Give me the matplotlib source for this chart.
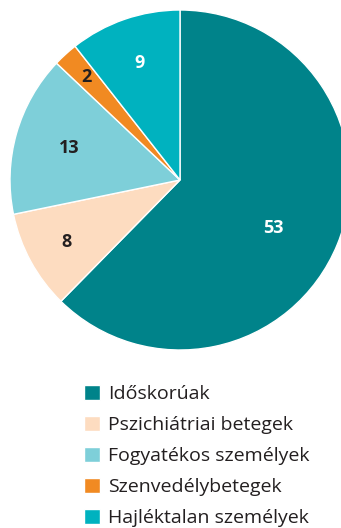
import numpy as np
import matplotlib.pyplot as plt

# --- data ---
labels = ["Időskorúak", "Pszichiátriai betegek", "Fogyatékos személyek",
          "Szenvedélybetegek", "Hajléktalan személyek"]
values = [53, 8, 13, 2, 9]
colors = ["#00838a", "#fddcc0", "#7ecfd9", "#f18a22", "#00b2bf"]
text_colors = ["white", "#231f20", "#231f20", "#231f20", "white"]
label_radius = [0.62, 0.76, 0.68, 0.82, 0.73]
label_shift = [-5, 0, 0, 0, 0]  # degrees, nudge for the big slice label

plt.rcParams['font.family'] = ['Open Sans', 'DejaVu Sans']

fig = plt.figure(figsize=(3.41, 5.28), dpi=100)
ax = fig.add_axes([10 / 341, (528 - 350) / 528, 340 / 341, 340 / 528])

wedges, _ = ax.pie(values, colors=colors, startangle=90, counterclock=False,
                   wedgeprops=dict(edgecolor="white", linewidth=1.0))
ax.set_xlim(-1, 1)
ax.set_ylim(-1, 1)
ax.set_aspect("equal")

for w, v, tc, r, s in zip(wedges, values, text_colors, label_radius, label_shift):
    mid = np.deg2rad((w.theta1 + w.theta2) / 2 + s)
    ax.text(r * np.cos(mid), r * np.sin(mid), str(v), ha="center", va="center",
            color=tc, fontsize=13, fontweight="bold")

fig.legend(wedges, labels, loc="upper left", bbox_to_anchor=(84 / 341, 1 - 385 / 528),
           frameon=False, fontsize=14, handlelength=0.8, handleheight=0.8,
           handletextpad=0.45, labelspacing=0.66, borderaxespad=0, borderpad=0,
           labelcolor="#231f20")

fig.savefig("out.png", dpi=100)
